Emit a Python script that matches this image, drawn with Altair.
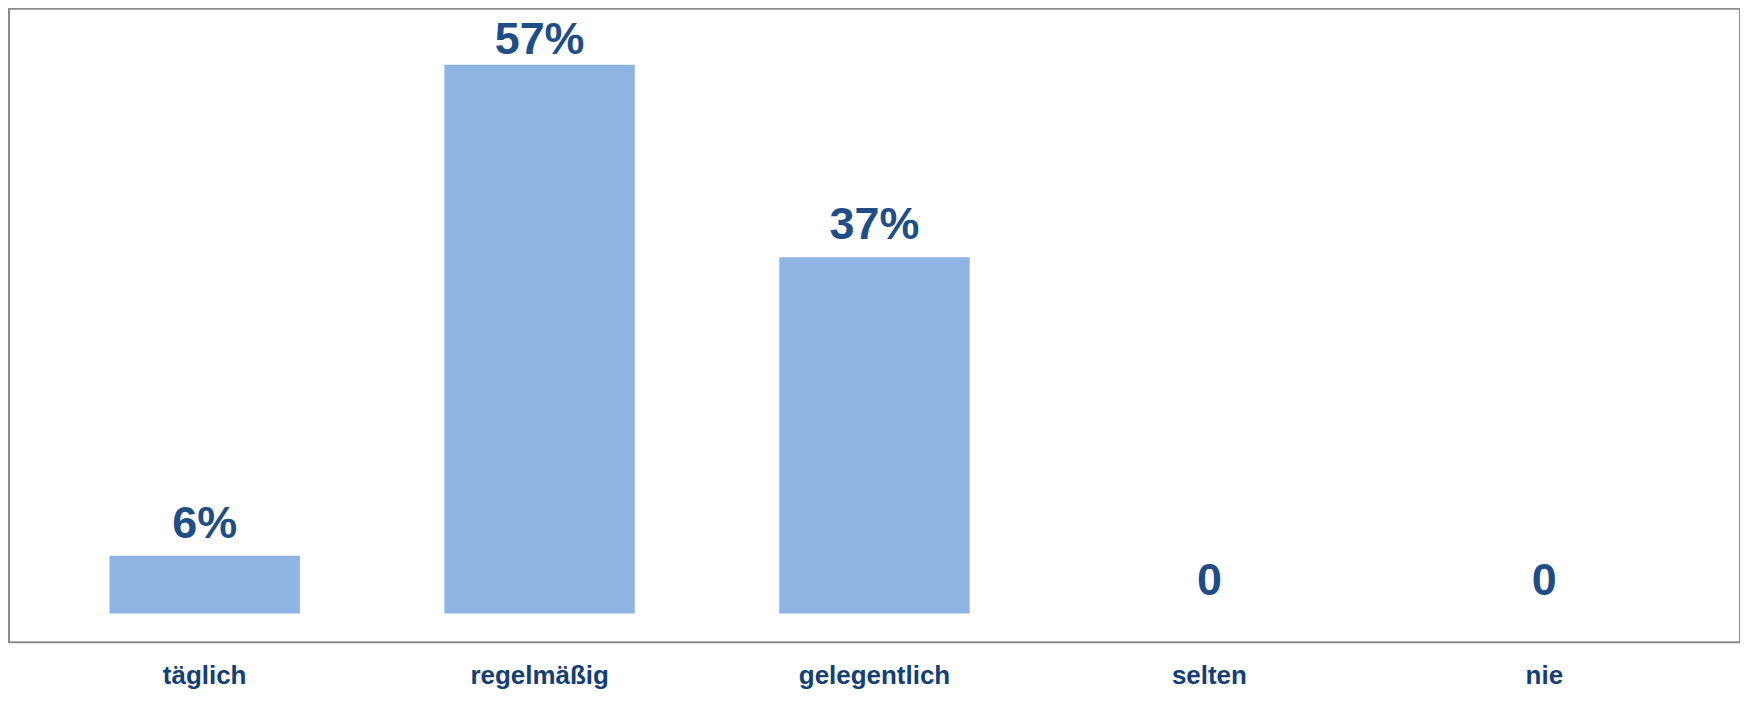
import altair as alt
import pandas as pd

categories = ["täglich", "regelmäßig", "gelegentlich", "selten", "nie"]
values = [6, 57, 37, 0, 0]
labels = ["6%", "57%", "37%", "0", "0"]

df = pd.DataFrame({"cat": categories, "value": values, "label": labels})

FONT = "Liberation Sans"

x = alt.X(
    "cat:N",
    sort=categories,
    title=None,
    scale=alt.Scale(paddingInner=0.4315, paddingOuter=0.3),
    axis=alt.Axis(
        domain=False,
        ticks=False,
        labelAngle=0,
        labelFont=FONT,
        labelFontSize=26,
        labelFontWeight="bold",
        labelColor="#153E75",
        labelBaseline="alphabetic",
        labelPadding=41,
    ),
)
yscale = alt.Scale(domain=[-3.0, 62.8], nice=False, zero=False)

bars = alt.Chart(df).mark_bar(color="#8EB4E3").encode(
    x=x,
    y=alt.Y("value:Q", scale=yscale, axis=None),
    y2=alt.datum(0),
)

text = alt.Chart(df).transform_calculate(
    labpos="min(datum.value, 56.2)"
).mark_text(
    font=FONT,
    fontSize=45,
    fontWeight="bold",
    color="#1F4E86",
    baseline="alphabetic",
    dy=-18,
).encode(
    x=alt.X("cat:N", sort=categories),
    y=alt.Y("labpos:Q", scale=yscale, axis=None),
    text="label:N",
)

chart = alt.layer(bars, text).properties(
    width=1735,
    height=635,
    background="white",
    autosize=alt.AutoSizeParams(type="none"),
    padding={"left": 1, "top": 0, "right": 0, "bottom": 47},
).configure_view(
    stroke="#8C8C8C",
    strokeWidth=2,
)

chart.save("out.html", embed_options={"renderer": "svg", "actions": False})
